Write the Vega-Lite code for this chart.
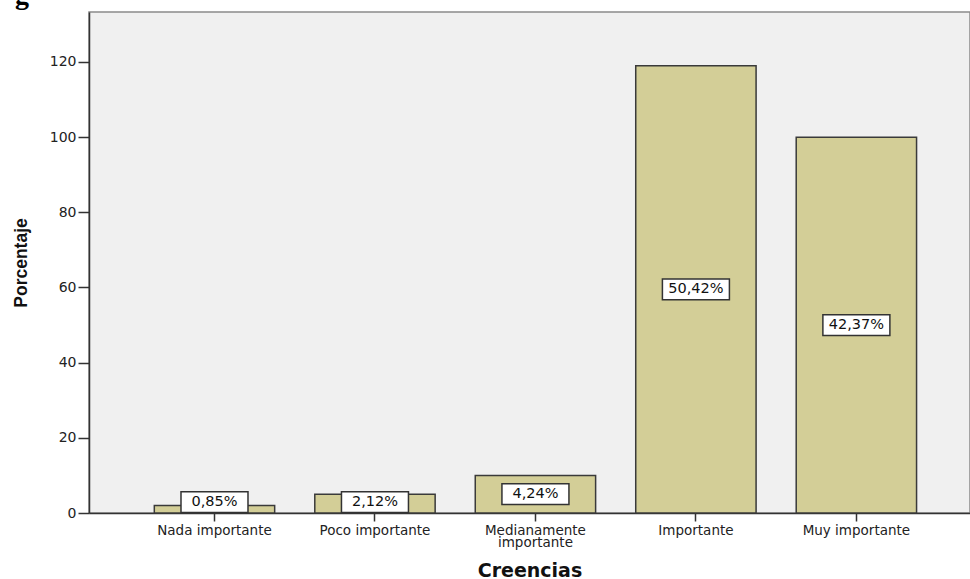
{
  "$schema": "https://vega.github.io/schema/vega-lite/v6.json",
  "width": 881,
  "height": 501,
  "autosize": {"type": "none"},
  "padding": {"left": 89, "top": 12, "right": 0, "bottom": 66},
  "background": "white",
  "title": {
    "text": "g",
    "anchor": "start",
    "frame": "group",
    "font": "Liberation Serif",
    "fontSize": 28,
    "fontWeight": "bold",
    "color": "#000",
    "baseline": "alphabetic",
    "offset": 0,
    "dx": -74,
    "dy": 20
  },
  "config": {
    "font": "DejaVu Sans",
    "view": {"fill": "#F0F0F0", "stroke": "#8a8a8a", "strokeWidth": 1.5}
  },
  "data": {
    "values": [
      {"categoria": "Nada importante", "valor": 2, "etiqueta": "0,85%"},
      {"categoria": "Poco importante", "valor": 5, "etiqueta": "2,12%"},
      {"categoria": "Medianamente importante", "valor": 10, "etiqueta": "4,24%"},
      {"categoria": "Importante", "valor": 119, "etiqueta": "50,42%"},
      {"categoria": "Muy importante", "valor": 100, "etiqueta": "42,37%"}
    ]
  },
  "transform": [{"calculate": "max(datum.valor / 2, 2.9)", "as": "medio"}],
  "encoding": {
    "x": {
      "field": "categoria",
      "type": "nominal",
      "sort": null,
      "scale": {"paddingInner": 0.25, "paddingOuter": 0.37, "align": 0.55},
      "axis": {
        "title": "Creencias",
        "titleFont": "DejaVu Sans",
        "titleFontSize": 19,
        "titleFontWeight": "bold",
        "titleColor": "#111",
        "titlePadding": 12,
        "labelAngle": 0,
        "labelFont": "DejaVu Sans",
        "labelFontSize": 13.5,
        "labelColor": "#222",
        "labelPadding": 2,
        "labelLineHeight": 12.5,
        "labelExpr": "datum.value == 'Medianamente importante' ? ['Medianamente', 'importante'] : datum.value",
        "domainColor": "#333",
        "domainWidth": 1.5,
        "tickColor": "#333",
        "tickSize": 8,
        "tickWidth": 1.5
      }
    }
  },
  "layer": [
    {
      "mark": {"type": "bar", "fill": "#D3CE97", "stroke": "#3a3a3a", "strokeWidth": 1.5},
      "encoding": {
        "y": {
          "field": "valor",
          "type": "quantitative",
          "scale": {"domain": [0, 133.3], "nice": false},
          "axis": {
            "title": "Porcentaje",
            "titleFont": "Liberation Sans",
            "titleFontSize": 17.5,
            "titleFontWeight": "bold",
            "titleColor": "#111",
            "titlePadding": 19,
            "values": [0, 20, 40, 60, 80, 100, 120],
            "labelFont": "DejaVu Sans",
            "labelFontSize": 14,
            "labelColor": "#222",
            "labelPadding": 2,
            "grid": false,
            "domainColor": "#333",
            "domainWidth": 1.5,
            "tickColor": "#333",
            "tickSize": 11,
            "tickWidth": 1.5
          }
        }
      }
    },
    {
      "mark": {
        "type": "point",
        "shape": "M-1,-0.31L1,-0.31L1,0.31L-1,0.31Z",
        "size": 4489,
        "filled": true,
        "fill": "white",
        "stroke": "#333",
        "strokeWidth": 1.5,
        "opacity": 1
      },
      "encoding": {"y": {"field": "medio", "type": "quantitative"}}
    },
    {
      "mark": {"type": "text", "fontSize": 14.5, "font": "DejaVu Sans", "color": "#111", "baseline": "middle"},
      "encoding": {
        "y": {"field": "medio", "type": "quantitative"},
        "text": {"field": "etiqueta"}
      }
    }
  ]
}
